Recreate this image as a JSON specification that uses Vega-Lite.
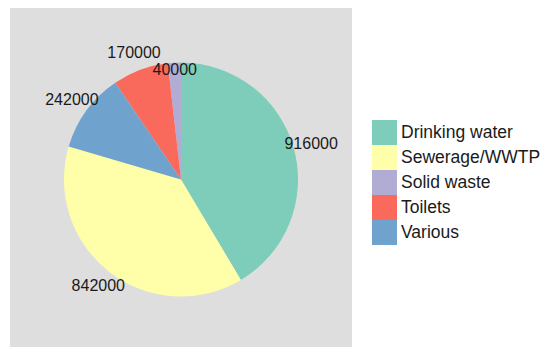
{
  "$schema": "https://vega.github.io/schema/vega-lite/v6.json",
  "autosize": {"type": "none"},
  "padding": {"left": 10, "top": 8, "right": 189, "bottom": 0},
  "width": 342,
  "height": 343,
  "background": "white",
  "view": {"fill": "#DEDEDE", "stroke": null},
  "data": {"values": [
    {"category": "Drinking water", "value": 916000},
    {"category": "Sewerage/WWTP", "value": 842000},
    {"category": "Solid waste", "value": 40000},
    {"category": "Toilets", "value": 170000},
    {"category": "Various", "value": 242000}
  ]},
  "encoding": {
    "theta": {"field": "value", "type": "quantitative", "stack": true},
    "order": {"field": "value", "type": "quantitative", "sort": "descending"}
  },
  "layer": [
    {
      "mark": {"type": "arc", "radius": 117},
      "encoding": {
        "color": {
          "field": "category", "type": "nominal",
          "scale": {
            "domain": ["Drinking water", "Sewerage/WWTP", "Solid waste", "Toilets", "Various"],
            "range": ["#7ECDBA", "#FFFFAA", "#B1ACD4", "#F9695C", "#6FA3CE"]
          },
          "legend": {
            "title": null,
            "orient": "none",
            "legendX": 362,
            "legendY": 112,
            "symbolType": "square",
            "symbolSize": 625,
            "symbolStrokeWidth": 0,
            "symbolOpacity": 1,
            "rowPadding": 0,
            "labelFont": "Liberation Sans",
            "labelFontSize": 17.5,
            "labelColor": "#1a1a1a",
            "labelOffset": 4,
            "padding": 0
          }
        }
      }
    },
    {
      "mark": {"type": "text", "radius": 135, "font": "Liberation Sans", "fontSize": 16, "color": "#1a1a1a", "align": "center", "baseline": "middle"},
      "encoding": {
        "text": {"field": "value", "type": "quantitative", "format": "d"},
        "opacity": {"condition": {"test": "datum.category === 'Solid waste'", "value": 0}, "value": 1}
      }
    },
    {
      "mark": {"type": "text", "radius": 110, "font": "Liberation Sans", "fontSize": 16, "color": "#1a1a1a", "align": "center", "baseline": "middle"},
      "encoding": {
        "text": {"field": "value", "type": "quantitative", "format": "d"},
        "opacity": {"condition": {"test": "datum.category === 'Solid waste'", "value": 1}, "value": 0}
      }
    }
  ]
}
